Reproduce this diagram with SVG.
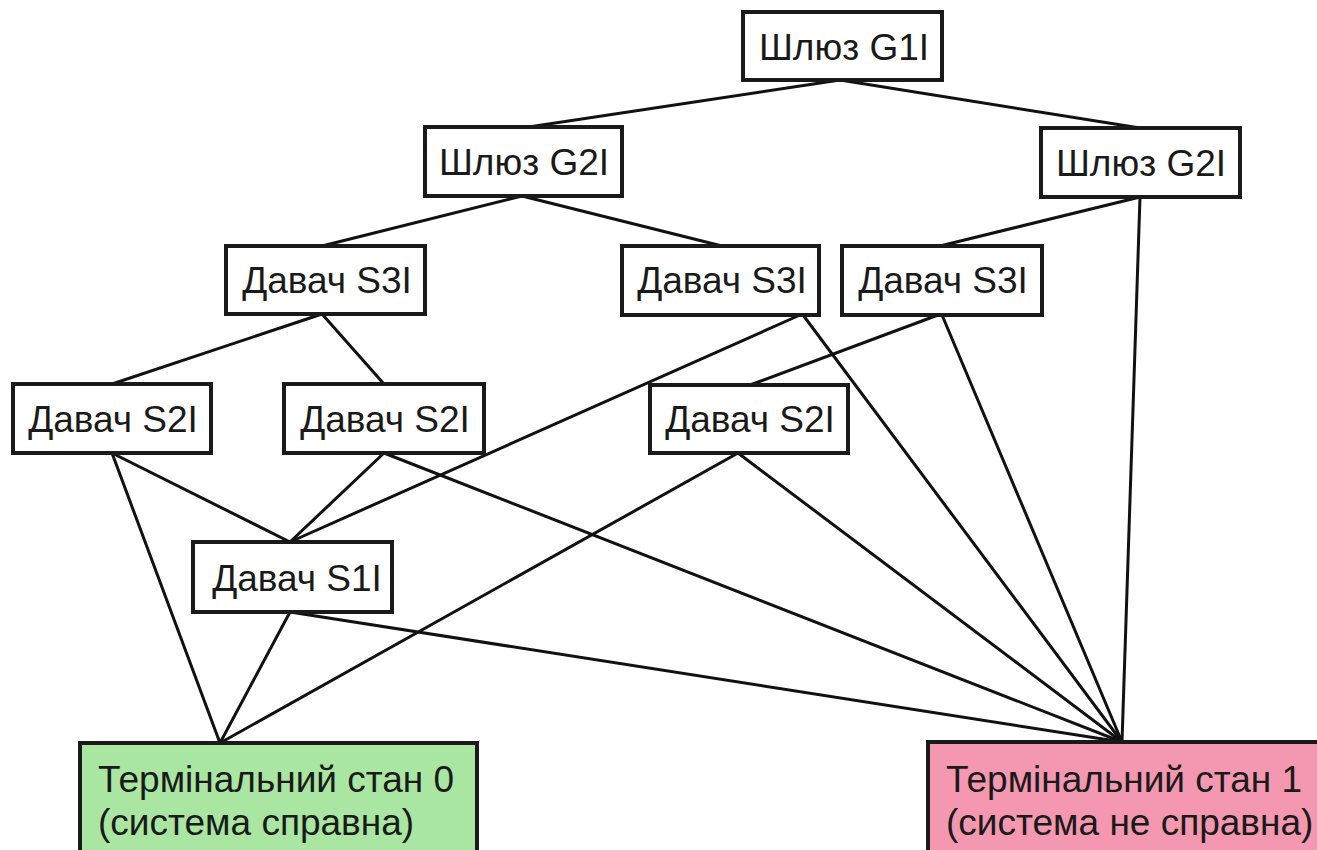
<svg xmlns="http://www.w3.org/2000/svg" width="1317" height="850" viewBox="0 0 1317 850">
  <style>
    .box { fill: #ffffff; stroke: #1a1a1a; stroke-width: 4; }
    .ok { fill: #a8e6a2; }
    .fail { fill: #f497b0; }
    .lbl { font-family: "Liberation Sans", Arial, sans-serif; font-size: 37px; fill: #1a1a1a; }
    .mid { text-anchor: middle; }
    #connectors line { stroke: #111111; stroke-width: 3; stroke-linecap: round; }
  </style>
  <rect width="1317" height="850" fill="#ffffff"/>

  <g id="connectors">
    <!-- gateway level -->
    <line x1="840" y1="80" x2="522" y2="128"/>
    <line x1="840" y1="80" x2="1140" y2="128"/>
    <line x1="522" y1="196" x2="322" y2="246"/>
    <line x1="522" y1="196" x2="722" y2="246"/>
    <line x1="1140" y1="197" x2="940" y2="246"/>
    <line x1="1140" y1="197" x2="1122" y2="742"/>
    <!-- sensor S3 level -->
    <line x1="322" y1="314" x2="112" y2="384"/>
    <line x1="322" y1="314" x2="384" y2="384"/>
    <line x1="800" y1="315" x2="290" y2="542"/>
    <line x1="803" y1="315" x2="1122" y2="742"/>
    <line x1="938" y1="315" x2="750" y2="385"/>
    <line x1="942" y1="315" x2="1122" y2="742"/>
    <!-- sensor S2 level -->
    <line x1="112" y1="453" x2="220" y2="743"/>
    <line x1="112" y1="453" x2="290" y2="542"/>
    <line x1="384" y1="453" x2="290" y2="542"/>
    <line x1="384" y1="453" x2="1122" y2="742"/>
    <line x1="738" y1="453" x2="220" y2="743"/>
    <line x1="738" y1="453" x2="1122" y2="742"/>
    <!-- sensor S1 level -->
    <line x1="290" y1="612" x2="220" y2="743"/>
    <line x1="290" y1="612" x2="1122" y2="742"/>
  </g>

  <g id="g1">
    <rect class="box" x="743" y="12" width="199" height="68"/>
    <text class="lbl mid" x="844" y="60">Шлюз G1I</text>
  </g>
  <g id="g2-left">
    <rect class="box" x="425" y="127" width="197" height="69"/>
    <text class="lbl mid" x="524" y="175">Шлюз G2I</text>
  </g>
  <g id="g2-right">
    <rect class="box" x="1041" y="128" width="199" height="69"/>
    <text class="lbl mid" x="1141" y="176">Шлюз G2I</text>
  </g>

  <g id="s3-left">
    <rect class="box" x="226" y="246" width="199" height="68"/>
    <text class="lbl mid" x="327" y="293">Давач S3I</text>
  </g>
  <g id="s3-mid">
    <rect class="box" x="622" y="246" width="197" height="69"/>
    <text class="lbl mid" x="722" y="293">Давач S3I</text>
  </g>
  <g id="s3-right">
    <rect class="box" x="842" y="246" width="200" height="69"/>
    <text class="lbl mid" x="943" y="293">Давач S3I</text>
  </g>

  <g id="s2-left">
    <rect class="box" x="13" y="384" width="198" height="69"/>
    <text class="lbl mid" x="113" y="432">Давач S2I</text>
  </g>
  <g id="s2-mid">
    <rect class="box" x="284" y="384" width="200" height="69"/>
    <text class="lbl mid" x="385" y="432">Давач S2I</text>
  </g>
  <g id="s2-right">
    <rect class="box" x="650" y="385" width="198" height="68"/>
    <text class="lbl mid" x="750" y="432">Давач S2I</text>
  </g>

  <g id="s1">
    <rect class="box" x="193" y="542" width="199" height="70"/>
    <text class="lbl mid" x="297" y="591">Давач S1I</text>
  </g>

  <g id="terminal-0">
    <rect class="box ok" x="80" y="743" width="397" height="120"/>
    <text class="lbl" x="98" y="792">Термінальний стан 0</text>
    <text class="lbl" x="98" y="835">(система справна)</text>
  </g>
  <g id="terminal-1">
    <rect class="box fail" x="928" y="742" width="400" height="120"/>
    <text class="lbl" x="946" y="792">Термінальний стан 1</text>
    <text class="lbl" x="946" y="835">(система не справна)</text>
  </g>
</svg>
